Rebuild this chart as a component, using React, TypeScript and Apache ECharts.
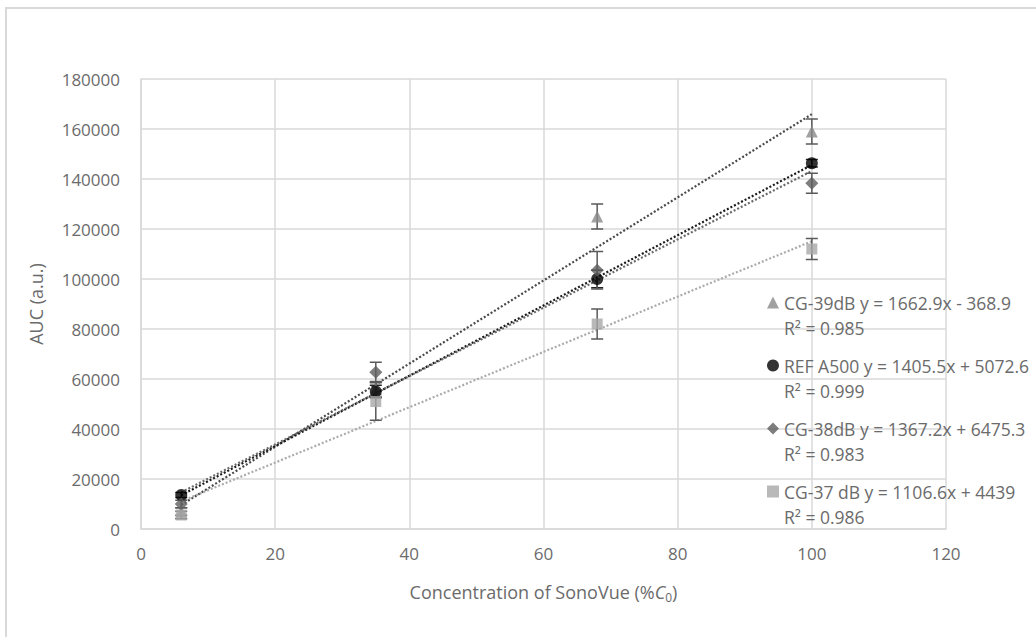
import React, { useEffect, useRef } from "react";
import * as echarts from "echarts";

const xValues = [6, 35, 68, 100];
const seriesNames = ["CG-39dB", "REF A500", "CG-38dB", "CG-37 dB"];
const cg39 = [7000, 56000, 125000, 159000];
const cg39Err = [1500, 3000, 5000, 5000];
const refA500 = [13600, 55000, 100000, 146300];
const refA500Err = [1000, 2500, 3500, 1500];
const cg38 = [10000, 62700, 103500, 138300];
const cg38Err = [1500, 4000, 7500, 4000];
const cg37 = [5600, 51000, 82000, 112000];
const cg37Err = [1500, 7500, 6000, 4200];
const slopes = [1662.9, 1405.5, 1367.2, 1106.6];
const intercepts = [-368.9, 5072.6, 6475.3, 4439];
const equations = ["y = 1662.9x - 368.9", "y = 1405.5x + 5072.6", "y = 1367.2x + 6475.3", "y = 1106.6x + 4439"];
const rSquared = ["0.985", "0.999", "0.983", "0.986"];
const trendRange = [6, 100];
const xTicks = [0, 20, 40, 60, 80, 100, 120];
const yTicks = [0, 20000, 40000, 60000, 80000, 100000, 120000, 140000, 160000, 180000];

const values = [cg39, refA500, cg38, cg37];
const errors = [cg39Err, refA500Err, cg38Err, cg37Err];
const markerColors = ["#8a8a8a", "#000000", "#5e5e5e", "#a8a8a8"];
const lineColors = ["#4a4a4a", "#1a1a1a", "#6a6a6a", "#ababab"];
const symbols = ["triangle", "circle", "diamond", "rect"];
const symbolSizes = [12, 12, 13, 11];
const FONT = "'Open Sans', 'Noto Sans', sans-serif";
const TXT = "#6b6b6b";

export default function App() {
  const ref = useRef<HTMLDivElement>(null);
  useEffect(() => {
    if (!ref.current) return;
    const chart = echarts.init(ref.current, null, { renderer: "svg" });
    const series: any[] = [];
    values.forEach((vals, i) => {
      series.push({
        type: "line",
        name: seriesNames[i] + " trend",
        data: trendRange.map((x) => [x, slopes[i] * x + intercepts[i]]),
        showSymbol: false,
        symbol: "none",
        lineStyle: { color: lineColors[i], width: 2.2, type: [2, 2] },
        z: 2,
        silent: true,
      });
    });
    values.forEach((vals, i) => {
      series.push({
        type: "custom",
        name: seriesNames[i] + " err",
        data: xValues.map((x, j) => [x, vals[j] - errors[i][j], vals[j] + errors[i][j]]),
        encode: { x: 0, y: [1, 2] },
        z: 3,
        silent: true,
        renderItem: (params: any, api: any) => {
          const lo = api.coord([api.value(0), api.value(1)]);
          const hi = api.coord([api.value(0), api.value(2)]);
          const w = 6;
          const st = { stroke: i === 1 ? "#222" : "#595959", lineWidth: 1.5 };
          return {
            type: "group",
            children: [
              { type: "line", shape: { x1: lo[0], y1: lo[1], x2: hi[0], y2: hi[1] }, style: st },
              { type: "line", shape: { x1: lo[0] - w, y1: lo[1], x2: lo[0] + w, y2: lo[1] }, style: st },
              { type: "line", shape: { x1: hi[0] - w, y1: hi[1], x2: hi[0] + w, y2: hi[1] }, style: st },
            ],
          };
        },
      });
    });
    values.forEach((vals, i) => {
      series.push({
        type: "scatter",
        name: seriesNames[i],
        data: xValues.map((x, j) => [x, vals[j]]),
        symbol: symbols[i],
        symbolSize: symbolSizes[i],
        itemStyle: { color: markerColors[i] },
        z: 4,
      });
    });

    chart.setOption({
      animation: false,
      backgroundColor: "#ffffff",
      textStyle: { fontFamily: FONT },
      grid: { left: 141, right: 90, top: 79, bottom: 108 },
      graphic: [
        {
          type: "rect",
          shape: { x: 6, y: 8, width: 1200, height: 800 },
          style: { fill: "none", stroke: "#d9d9d9", lineWidth: 2 },
          silent: true,
        },
      ],
      xAxis: {
        type: "value",
        min: xTicks[0],
        max: xTicks[xTicks.length - 1],
        interval: 20,
        name: "Concentration of SonoVue (%{i|C}{s|0})",
        nameLocation: "middle",
        nameGap: 52,
        nameTextStyle: {
          color: TXT,
          fontSize: 18,
          fontFamily: FONT,
          rich: {
            i: { fontStyle: "italic", fontSize: 18, color: TXT, fontFamily: FONT },
            s: { fontSize: 12, verticalAlign: "bottom", padding: [10, 0, 0, 0], color: TXT, fontFamily: FONT },
          },
        },
        axisLine: { show: true, lineStyle: { color: "#d9d9d9", width: 1.5 } },
        axisTick: { show: false },
        splitLine: { show: true, lineStyle: { color: "#d9d9d9", width: 1.5 } },
        axisLabel: { color: TXT, fontSize: 17, margin: 16, fontFamily: FONT },
      },
      yAxis: {
        type: "value",
        min: yTicks[0],
        max: yTicks[yTicks.length - 1],
        interval: 20000,
        name: "AUC (a.u.)",
        nameLocation: "middle",
        nameGap: 96,
        nameRotate: 90,
        nameTextStyle: { color: TXT, fontSize: 18, fontFamily: FONT },
        axisLine: { show: true, lineStyle: { color: "#d9d9d9", width: 1.5 } },
        axisTick: { show: false },
        splitLine: { show: true, lineStyle: { color: "#d9d9d9", width: 1.5 } },
        axisLabel: {
          color: TXT,
          fontSize: 17,
          margin: 21,
          fontFamily: FONT,
          formatter: (v: number) => String(v),
        },
      },
      legend: {
        orient: "vertical",
        left: 762,
        top: 260,
        itemWidth: 12,
        itemHeight: 12,
        itemGap: -12,
        data: seriesNames.map((n, i) => ({ name: n, icon: symbols[i] })),
        formatter: (name: string) => {
          const i = seriesNames.indexOf(name);
          return `\n${name} ${equations[i]}\nR² = ${rSquared[i]}`;
        },
        textStyle: { color: TXT, fontSize: 17.5, lineHeight: 25, fontFamily: FONT },
      },
      series,
    });
    return () => chart.dispose();
  }, []);
  return (
    <div
      ref={ref}
      style={{ position: "fixed", left: 0, top: 0, width: 1036, height: 637, background: "#fff" }}
    />
  );
}
